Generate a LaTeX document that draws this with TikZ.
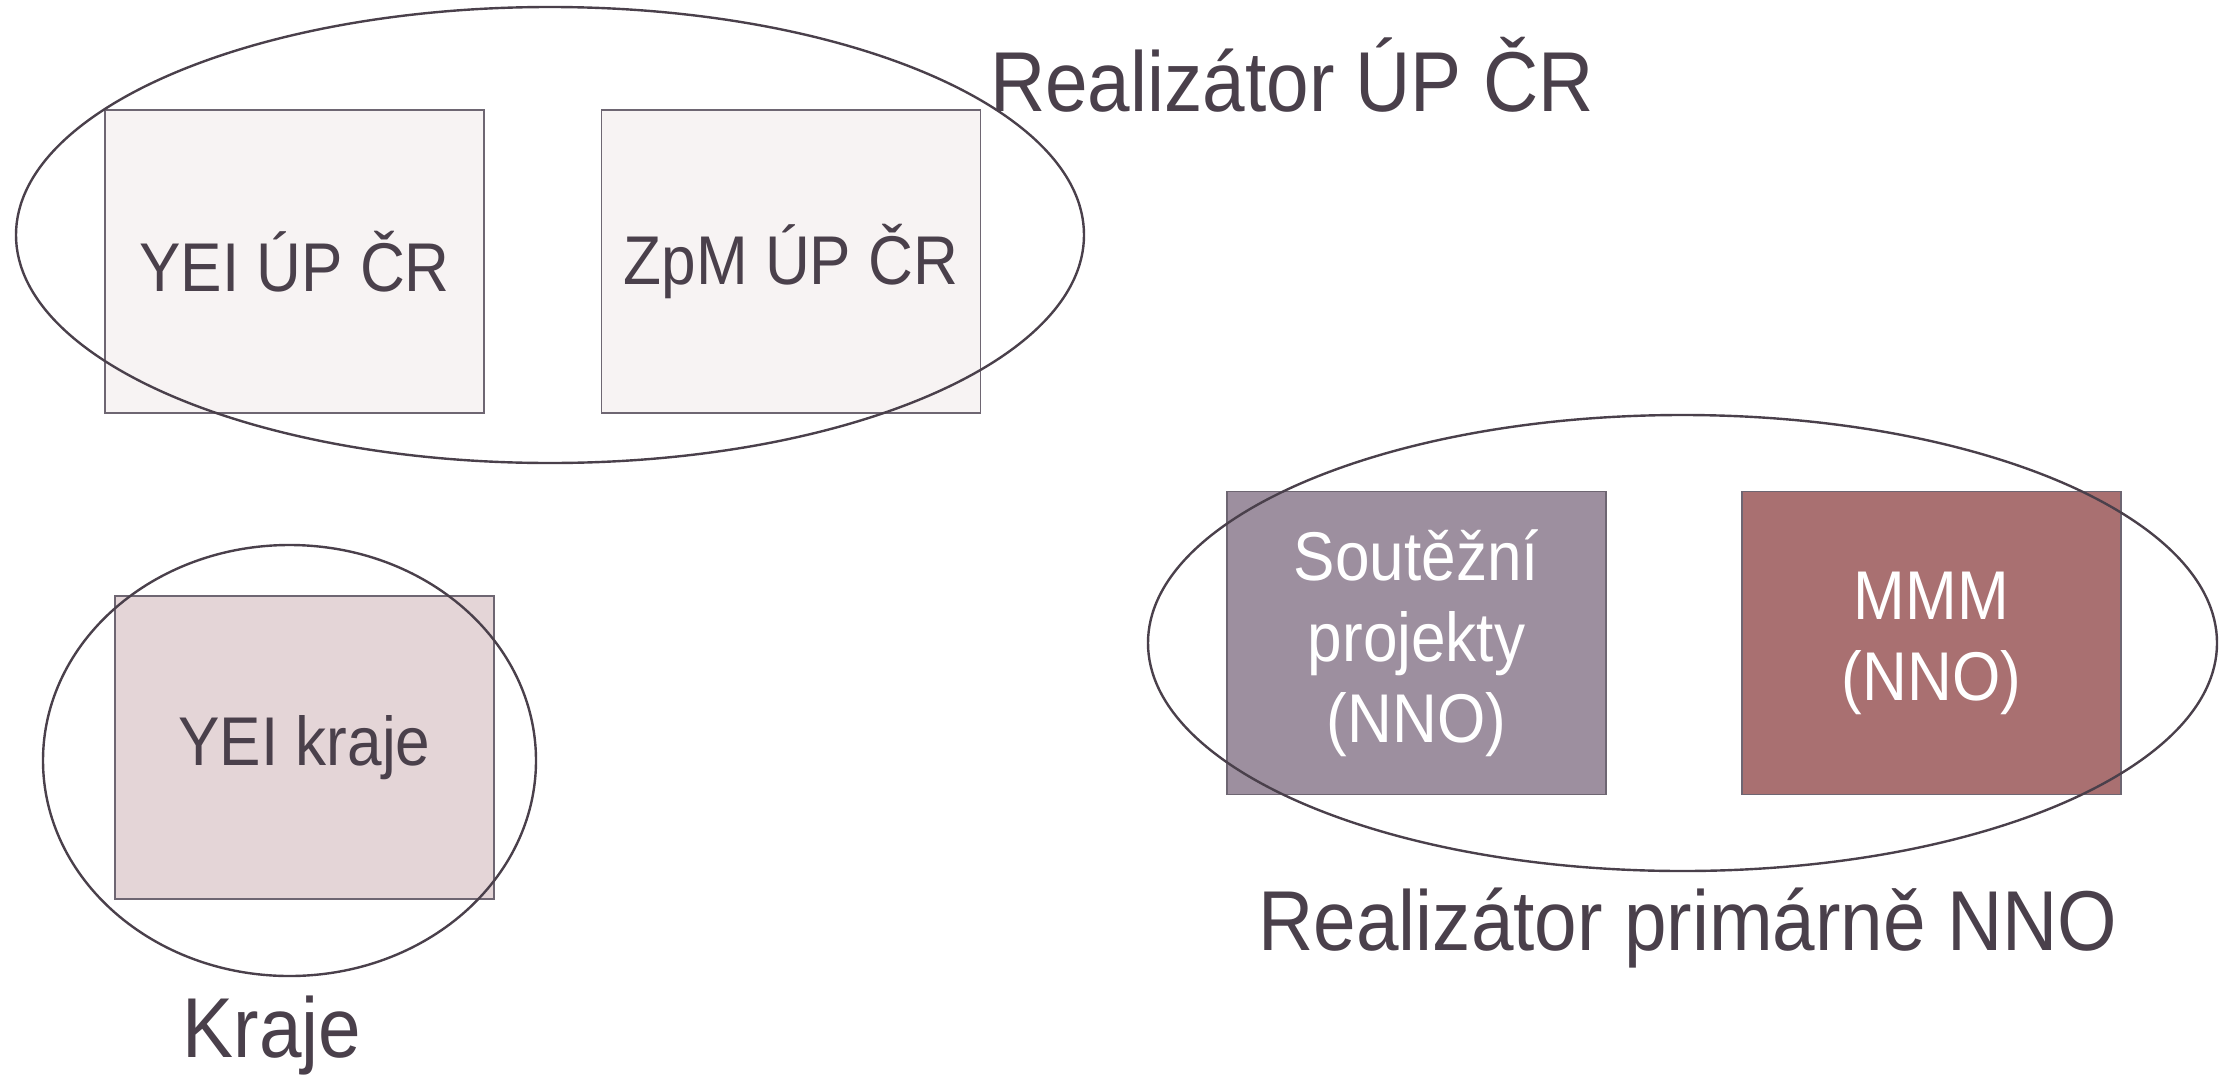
\documentclass[tikz,border=0pt]{standalone}
\usepackage{fontspec}
\setmainfont[FakeStretch=0.9]{Liberation Sans}
\usetikzlibrary{shapes.geometric}
\definecolor{ink}{HTML}{4A404B}
\definecolor{edge}{HTML}{6E6672}
\definecolor{paleBox}{HTML}{F7F3F3}
\definecolor{roseBox}{HTML}{E4D5D7}
\definecolor{mauveBox}{HTML}{9D8F9F}
\definecolor{wineBox}{HTML}{A97071}

\begin{document}
\begin{tikzpicture}[x=0.5pt, y=-0.5pt,
	box/.style={draw=edge, line width=0.6pt, minimum width=189.5pt, minimum height=151.5pt,
	  align=center, text=ink, font=\fontsize{34.5}{40.5}\selectfont},
	group/.style={draw=ink, line width=1.2pt, ellipse, inner sep=0pt},
	title/.style={anchor=base, text=ink, font=\fontsize{42.5}{50}\selectfont}]
	\useasboundingbox (0,0) rectangle (2231,1076);
	% boxes
	\node[box, fill=paleBox] (yeiup) at (294.5,261.5) {YEI ÚP ČR};
	\node[box, fill=paleBox] (zpm) at (791,261.5) {ZpM ÚP ČR};
	\node[box, fill=roseBox] (yeikraje) at (304.5,747.5) {YEI kraje};
	\node[box, fill=mauveBox, text=white] (soutez) at (1416.5,643) {Soutěžní\\projekty\\(NNO)};
	\node[box, fill=wineBox, text=white] (mmm) at (1931.5,643) {MMM\\(NNO)};
	% groups
	\node[group, minimum width=534pt, minimum height=228pt] (upcr) at (550,235) {};
	\node[group, minimum width=246.5pt, minimum height=215.5pt] (kraje) at (289.5,760.5) {};
	\node[group, minimum width=534.5pt, minimum height=228pt] (nno) at (1682.5,643) {};
	% labels
	\node[title] (upcrlabel) at (1292,111) {Realizátor ÚP ČR};
	\node[title] (krajelabel) at (272,1057) {Kraje};
	\node[title] (nnolabel) at (1688,950) {Realizátor primárně NNO};
\end{tikzpicture}
\end{document}
